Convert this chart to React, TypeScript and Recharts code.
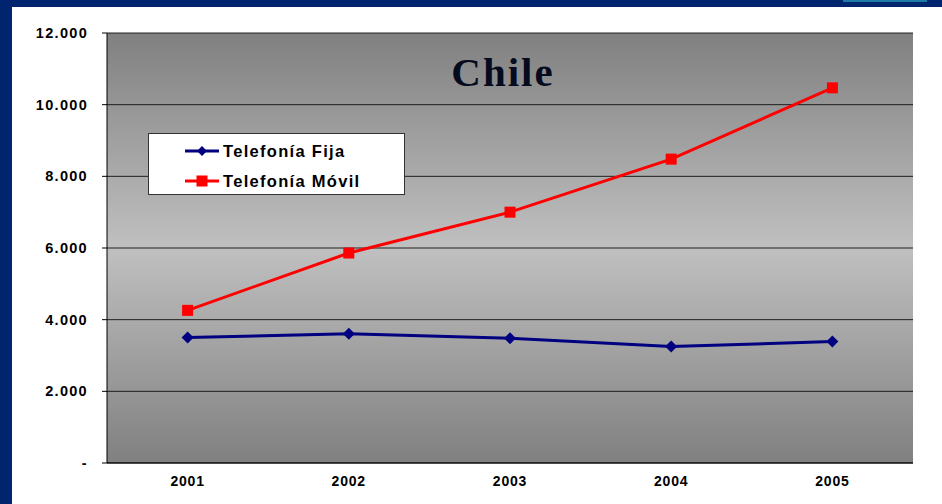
import React from 'react';
import {
  LineChart,
  Line,
  XAxis,
  YAxis,
  CartesianGrid,
} from 'recharts';

// años y series (miles de líneas)
const YEARS = [2001, 2002, 2003, 2004, 2005];
const FIJA = [3500, 3610, 3480, 3250, 3390];
const MOVIL = [4260, 5860, 7000, 8480, 10470];
const Y_TICKS = [0, 2000, 4000, 6000, 8000, 10000, 12000];
const BOUNDS = [2000.5, 2001.5, 2002.5, 2003.5, 2004.5, 2005.5];
const SERIES = [
  { key: 'fija', name: 'Telefonía Fija', color: '#000080', shape: 'diamond' },
  { key: 'movil', name: 'Telefonía Móvil', color: '#ff0000', shape: 'square' },
];

const data = YEARS.map((year, i) => ({ year, fija: FIJA[i], movil: MOVIL[i] }));

const fmtY = (v: number) => (v === 0 ? '-' : v.toLocaleString('de-DE'));

const Diamond = (props: any) => {
  const { cx, cy } = props;
  if (cx == null || cy == null) return null;
  return <path d={`M${cx},${cy - 6} L${cx + 6},${cy} L${cx},${cy + 6} L${cx - 6},${cy} Z`} fill="#000080" />;
};

const Square = (props: any) => {
  const { cx, cy } = props;
  if (cx == null || cy == null) return null;
  return <rect x={cx - 5.5} y={cy - 5.5} width={11} height={11} fill="#ff0000" />;
};

const LegendBox = () => (
  <div
    style={{
      position: 'absolute',
      left: 148,
      top: 133,
      background: '#ffffff',
      border: '1px solid #333',
      width: 257,
      height: 62,
      boxSizing: 'border-box',
      paddingTop: 2,
      fontFamily: 'Arial, "Liberation Sans", sans-serif',
      fontWeight: 'bold',
      fontSize: 16.5,
      letterSpacing: 1.3,
      color: '#000',
    }}
  >
    {SERIES.map((item) => (
      <div key={item.name} style={{ display: 'flex', alignItems: 'center', height: 30, paddingLeft: 36 }}>
        <svg width={36} height={14} style={{ marginRight: 2 }}>
          <line x1={0} y1={7} x2={34} y2={7} stroke={item.color} strokeWidth={3} />
          {item.shape === 'diamond' ? (
            <path d="M17,2 L22,7 L17,12 L12,7 Z" fill={item.color} />
          ) : (
            <rect x={11.5} y={1.5} width={11} height={11} fill={item.color} />
          )}
        </svg>
        <span>{item.name}</span>
      </div>
    ))}
  </div>
);

const tickFont = {
  fontFamily: 'Arial, "Liberation Sans", sans-serif',
  fontWeight: 'bold' as const,
  fill: '#000',
};

export default function App() {
  return (
    <div style={{ position: 'absolute', left: 0, top: 0, width: 942, height: 504, background: '#00246e', overflow: 'hidden' }}>
      <div style={{ position: 'absolute', left: 843, top: 0, width: 84, height: 2, background: '#1d7aa6' }} />
      <div style={{ position: 'absolute', left: 12, top: 7, width: 930, height: 497, background: '#ffffff' }} />
      <div style={{ position: 'absolute', left: 0, top: 0 }}>
        <LineChart width={942} height={504} data={data} margin={{ top: 33, right: 29, bottom: 0, left: 12 }}>
          <defs>
            <linearGradient id="bg" x1="0" y1="0" x2="0" y2="1">
              <stop offset="0%" stopColor="#808080" />
              <stop offset="50%" stopColor="#c0c0c0" />
              <stop offset="100%" stopColor="#808080" />
            </linearGradient>
          </defs>
          <CartesianGrid vertical={false} stroke="#111" strokeOpacity={0.9} fill="url(#bg)" fillOpacity={1} />
          <XAxis
            xAxisId="a"
            dataKey="year"
            type="number"
            domain={[2000.5, 2005.5]}
            ticks={BOUNDS}
            tick={false}
            tickSize={4}
            height={4}
            stroke="#000"
            allowDataOverflow
          />
          <XAxis
            xAxisId="b"
            dataKey="year"
            type="number"
            domain={[2000.5, 2005.5]}
            ticks={YEARS}
            axisLine={false}
            tickLine={false}
            tickSize={0}
            height={37}
            tickMargin={9}
            tick={{ ...tickFont, fontSize: 14, letterSpacing: 0.8 }}
          />
          <YAxis
            domain={[0, 12000]}
            ticks={Y_TICKS}
            tickFormatter={fmtY}
            width={95}
            tickSize={5}
            tickMargin={14}
            stroke="#000"
            tick={{ ...tickFont, fontSize: 14.5, letterSpacing: 1.3 }}
          />
          <Line
            xAxisId="b"
            dataKey="fija"
            name={SERIES[0].name}
            stroke="#000080"
            strokeWidth={3}
            dot={<Diamond />}
            activeDot={false}
            isAnimationActive={false}
          />
          <Line
            xAxisId="b"
            dataKey="movil"
            name={SERIES[1].name}
            stroke="#ff0000"
            strokeWidth={3}
            dot={<Square />}
            activeDot={false}
            isAnimationActive={false}
          />
        </LineChart>
      </div>
      <LegendBox />
      <div
        style={{
          position: 'absolute',
          left: 403,
          top: 48,
          width: 200,
          textAlign: 'center',
          fontFamily: '"Liberation Serif", "Times New Roman", serif',
          fontWeight: 'bold',
          fontSize: 41,
          letterSpacing: 2,
          color: '#050a1e',
        }}
      >
        Chile
      </div>
    </div>
  );
}
